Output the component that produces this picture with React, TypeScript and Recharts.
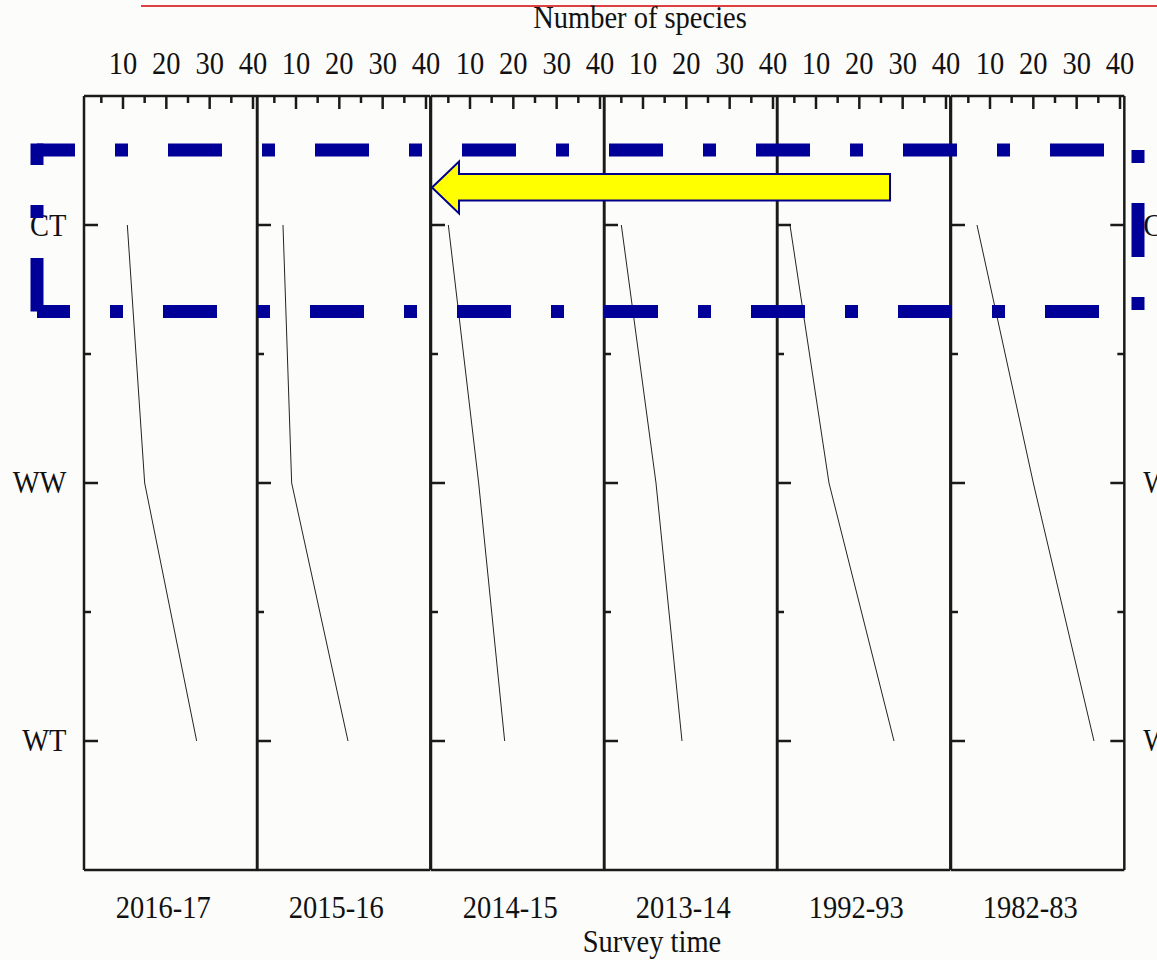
import React from 'react';
import { LineChart, Line, XAxis, YAxis } from 'recharts';

const zones = ['CT', 'WW', 'WT'];
const surveys = ['2016-17', '2015-16', '2014-15', '2013-14', '1992-93', '1982-83'];
const speciesCT = [11, 7, 5, 5, 4, 7];
const speciesWW = [15, 9, 12, 13, 13, 20];
const speciesWT = [27, 22, 18, 19, 28, 34];
const speciesTicks = [5, 10, 15, 20, 25, 30, 35, 40];
const zoneTicks = [1, 1.5, 2, 2.5, 3];

const FONT = "'Liberation Serif', 'Times New Roman', serif";
const INK = '#1a1a1a';
const BLUE = '#000099';
const TOP = 96;
const BOTTOM = 870;
const FIRST_LEFT = 84;
const PANEL_W = 173.33;
const STRETCH = 1.14;

function Txt({ x, y, anchor = 'middle', size = 28.5, children }: any) {
  return (
    <text
      transform={`translate(${x},${y}) scale(1,${STRETCH})`}
      textAnchor={anchor}
      fontFamily={FONT}
      fontSize={size}
      fill="#111"
    >
      {children}
    </text>
  );
}

function Panel({ index }: { index: number }) {
  const last = index === surveys.length - 1;
  const leftW = index === 0 ? 84 : 4;
  const rightW = last ? 33 : 20;
  const width = leftW + PANEL_W + rightW;
  const plotLeft = FIRST_LEFT + index * PANEL_W;
  const rows = zones.map((zone, i) => ({
    zone,
    pos: i + 1,
    species: [speciesCT, speciesWW, speciesWT][i][index],
  }));
  const leftX = leftW;
  const rightX = leftW + PANEL_W;
  const isMajorX = (v: number) => v % 10 === 0;
  const isMajorY = (v: number) => Number.isInteger(v);

  const topTick = (p: any) => {
    const v = p.payload.value;
    const len = isMajorX(v) ? 13 : 7;
    return (
      <g>
        <line x1={p.x} x2={p.x} y1={TOP} y2={TOP + len} stroke={INK} strokeWidth={2.5} />
        {isMajorX(v) && <Txt x={p.x} y={73.5}>{v}</Txt>}
      </g>
    );
  };
  const bottomTick = (p: any) => {
    const len = isMajorX(p.payload.value) ? 13 : 7;
    return <line x1={p.x} x2={p.x} y1={BOTTOM} y2={BOTTOM - len} stroke={INK} strokeWidth={2.5} />;
  };
  const leftTick = (p: any) => {
    const v = p.payload.value;
    const len = isMajorY(v) ? 14 : 7;
    return (
      <g>
        <line x1={leftX} x2={leftX + len} y1={p.y} y2={p.y} stroke={INK} strokeWidth={2.5} />
        {index === 0 && isMajorY(v) && (
          <Txt x={leftX - 17.5} y={p.y + 10.5} anchor="end">{zones[v - 1]}</Txt>
        )}
      </g>
    );
  };
  const rightTick = (p: any) => {
    const v = p.payload.value;
    if (!last) return <g />;
    const len = isMajorY(v) ? 14 : 7;
    return (
      <g>
        <line x1={rightX} x2={rightX - len} y1={p.y} y2={p.y} stroke={INK} strokeWidth={2.5} />
        {isMajorY(v) && (
          <Txt x={rightX + 19} y={p.y + 10.5} anchor="start">{zones[v - 1]}</Txt>
        )}
      </g>
    );
  };
  const yearLabel = (p: any) => {
    const vb = p.viewBox;
    return <Txt x={vb.x + vb.width / 2 - 7.5} y={918}>{surveys[index]}</Txt>;
  };

  const axisLine = { stroke: INK, strokeWidth: 2.5 };

  return (
    <div style={{ position: 'absolute', left: plotLeft - leftW, top: 0 }}>
      <LineChart
        layout="vertical"
        width={width}
        height={960}
        data={rows}
        margin={{ top: 0, right: 0, bottom: 0, left: 0 }}
      >
        <XAxis
          xAxisId="top"
          orientation="top"
          type="number"
          domain={[1, 41]}
          ticks={speciesTicks}
          interval={0}
          height={TOP}
          axisLine={axisLine}
          tickLine={false}
          tick={topTick}
        />
        <XAxis
          xAxisId="bottom"
          orientation="bottom"
          type="number"
          domain={[1, 41]}
          ticks={speciesTicks}
          interval={0}
          height={960 - BOTTOM}
          axisLine={axisLine}
          tickLine={false}
          tick={bottomTick}
          label={{ content: yearLabel }}
        />
        <YAxis
          yAxisId="left"
          orientation="left"
          type="number"
          dataKey="pos"
          domain={[0.5, 3.5]}
          ticks={zoneTicks}
          interval={0}
          width={leftW}
          axisLine={axisLine}
          tickLine={false}
          tick={leftTick}
        />
        <YAxis
          yAxisId="right"
          orientation="right"
          type="number"
          dataKey="pos"
          domain={[0.5, 3.5]}
          ticks={zoneTicks}
          interval={0}
          width={rightW}
          axisLine={axisLine}
          tickLine={false}
          tick={rightTick}
        />
        <Line
          xAxisId="top"
          yAxisId="left"
          dataKey="species"
          type="linear"
          stroke="#222"
          strokeWidth={1}
          dot={false}
          isAnimationActive={false}
        />
      </LineChart>
    </div>
  );
}

function Overlay() {
  const dash = '54 40 13 40';
  const x0 = 37;
  const x1 = 1138;
  const y0 = 150;
  const y1 = 311.5;
  return (
    <svg
      width={1157}
      height={960}
      style={{ position: 'absolute', left: 0, top: 0, pointerEvents: 'none' }}
    >
      <line x1={141} x2={1157} y1={6} y2={6} stroke="#d40000" strokeWidth={1.5} />
      <Txt x={640} y={28}>Number of species</Txt>
      <Txt x={652} y={952}>Survey time</Txt>
      <g stroke={BLUE} strokeWidth={13} fill="none">
        <line x1={x0} x2={x1} y1={y0} y2={y0} strokeDasharray={dash} strokeDashoffset={16} />
        <line x1={x0} x2={x0} y1={y0 - 6.5} y2={y1} strokeDasharray={dash} strokeDashoffset={32.5} />
        <line x1={x0} x2={x1} y1={y1} y2={y1} strokeDasharray={dash} strokeDashoffset={21} />
        <line x1={x1} x2={x1} y1={y0} y2={y1} strokeDasharray={dash} strokeDashoffset={94} />
      </g>
      <polygon
        points="432,187.5 459,161.5 459,174 890,174 890,200.5 459,200.5 459,213.5"
        fill="#ffff00"
        stroke="#00008b"
        strokeWidth={2}
      />
    </svg>
  );
}

export default function App() {
  return (
    <div
      style={{
        position: 'absolute',
        left: 0,
        top: 0,
        width: 1157,
        height: 960,
        overflow: 'hidden',
        background: '#fcfcfb',
      }}
    >
      {surveys.map((s, i) => (
        <Panel key={s} index={i} />
      ))}
      <Overlay />
    </div>
  );
}
